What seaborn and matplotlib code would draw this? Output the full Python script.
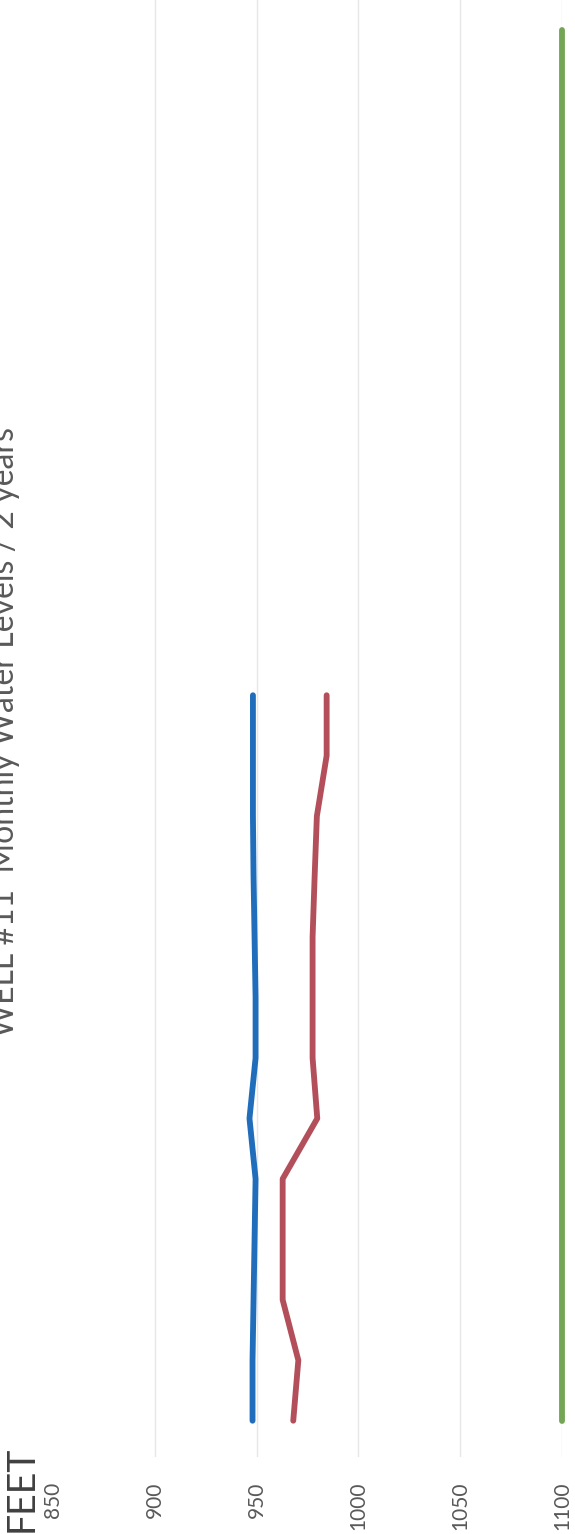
import matplotlib
matplotlib.use('Agg')
import matplotlib.pyplot as plt
import seaborn as sbn
import pandas as pd

# months since start (time runs bottom -> top in the picture)
months_full = list(range(24))
months_first = list(range(13))

blue_level = [948.0, 948.0, 948.5, 949.0, 949.5, 946.5, 949.5, 949.5, 949.0, 948.5, 948.2, 948.2, 948.2]
red_level = [968.0, 970.5, 962.8, 962.8, 962.8, 979.8, 977.5, 977.5, 977.5, 978.5, 979.6, 984.4, 984.4]
green_level = [1100.0] * 24

feet_ticks = [850, 900, 950, 1000, 1050, 1100]
title = 'WELL #11  Monthly Water Levels / 2 years'

sbn.set_style('white')
plt.rcParams['font.family'] = ['Lato', 'DejaVu Sans']

fig = plt.figure(figsize=(5.75, 15.34), dpi=100)
ax = fig.add_axes([53 / 575, 77 / 1534, 509 / 575, 1457 / 1534])

series = [
    (blue_level, months_first, '#1f6dbb'),
    (red_level, months_first, '#b34f5a'),
    (green_level, months_full, '#74a556'),
]
for level, month, color in series:
    df = pd.DataFrame({'feet': level, 'month': month})
    sbn.lineplot(data=df, x='feet', y='month', orient='y', ax=ax, color=color,
                 linewidth=4.2, solid_capstyle='round', clip_on=False)

ax.set_xlim(850, 1100)
ax.set_ylim(-0.6, 23.5)
ax.set_xticks(feet_ticks)
ax.set_xticklabels([str(t) for t in feet_ticks], rotation=90, fontsize=15, color='#595959')
ax.set_yticks([])
ax.tick_params(axis='x', length=0, pad=18)
ax.set_xlabel('')
ax.set_ylabel('')
for s in ax.spines.values():
    s.set_visible(False)
for t in feet_ticks[1:]:
    ax.axvline(t, color='#e6e6e6', linewidth=1.0, zorder=0)

fig.text(22 / 575, 2 / 1534, 'FEET', rotation=90, ha='center', va='bottom',
         fontsize=27, color='#404040')
fig.text(5 / 575, 1 - 732 / 1534, title, rotation=90, ha='center', va='center',
         fontsize=23, color='#595959')

fig.savefig('out.png', dpi=100)
